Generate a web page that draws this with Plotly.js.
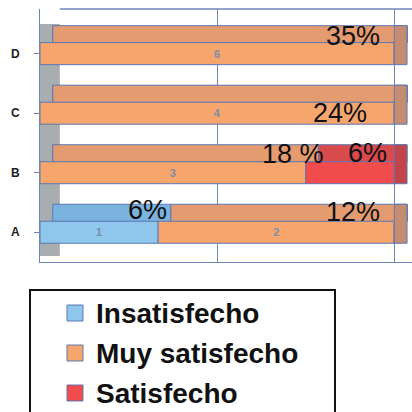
<!DOCTYPE html>
<html>
<head>
<meta charset="utf-8">
<script src="https://cdn.plot.ly/plotly-3.0.1.min.js"></script>
<style>
  html, body { margin: 0; padding: 0; background: #fff; }
  #chart { width: 412px; height: 412px; }
</style>
</head>
<body>
<div id="chart"></div>
<script>
// Survey answers per group (counts)
const categories = ['A', 'B', 'C', 'D'];
const insatisfecho = [1, 0, 0, 0];
const muySatisfecho = [2, 3, 4, 6];
const satisfecho = [0, 1, 0, 0];

// Share of all answers, as printed beside each segment
const shareInsatisfecho = ['6%', '', '', ''];
const shareMuySatisfecho = ['12%', '18 %', '24%', '35%'];
const shareSatisfecho = ['', '6%', '', ''];

const seriesNames = ['Insatisfecho', 'Muy satisfecho', 'Satisfecho'];
const seriesCounts = [insatisfecho, muySatisfecho, satisfecho];
const seriesShares = [shareInsatisfecho, shareMuySatisfecho, shareSatisfecho];

// Face colours: front, top, right-hand side
const frontColors = ['#8fc6ec', '#f6a66d', '#f24b4b'];
const topColors = ['#7bb3df', '#e59b70', '#d94a4c'];
const sideColors = ['#6c9cc8', '#c68c72', '#c2444a'];
const edgeColor = '#5d78b3';

// Pixel nudges for the share labels [series][category]
const labelDx = [[11, 0, 0, 0], [-12, 20, -25, -12], [0, -5, 0, 0]];
const labelDy = [[22, 0, 0, 0], [20, 19, 0, 18], [0, 20, 0, 0]];

const rowTotals = categories.map((_, i) =>
  seriesCounts.reduce((s, arr) => s + arr[i], 0));

const yIdx = categories.map((_, i) => i);
const skew = 3.6; // sideways shift of the slab's top and end faces, in x-axis units

const traces = [];
const annotations = [];
const running = categories.map(() => 0);
const lastSeries = categories.map(() => 0);

seriesCounts.forEach((counts, k) => {
  const pct = counts.map((v, i) => v / rowTotals[i] * 100);
  const base = running.slice();
  // top face (drawn first so the front sits over it)
  traces.push({
    type: 'bar', orientation: 'h',
    y: yIdx, x: pct, base: base.map(b => b + skew),
    offset: 0.18, width: 0.29,
    marker: { color: topColors[k], line: { color: edgeColor, width: 1 } },
    showlegend: false, hoverinfo: 'skip'
  });
  // front face
  traces.push({
    type: 'bar', orientation: 'h',
    y: yIdx, x: pct, base: base,
    offset: -0.185, width: 0.37,
    name: seriesNames[k], showlegend: false,
    marker: { color: frontColors[k], line: { color: edgeColor, width: 1 } },
    text: counts.map(v => (v > 0 && k < 2) ? String(v) : ''),
    textposition: 'inside', insidetextanchor: 'middle',
    constraintext: 'none',
    textfont: { family: 'Liberation Sans', size: 11, color: '#7d8ca8', weight: 'bold' },
    hoverinfo: 'name+text'
  });
  pct.forEach((p, i) => {
    if (counts[i] > 0) lastSeries[i] = k;
    if (counts[i] > 0 && seriesShares[k][i]) {
      annotations.push({
        x: base[i] + p, y: i, xref: 'x', yref: 'y',
        text: seriesShares[k][i], showarrow: false,
        xanchor: 'right', yanchor: 'middle',
        xshift: labelDx[k][i], yshift: labelDy[k][i],
        font: { family: 'Liberation Sans', size: 27, color: '#111' }
      });
    }
    running[i] += p;
  });
});

// right-hand end face of each slab
traces.push({
  type: 'bar', orientation: 'h',
  y: yIdx, x: categories.map(() => skew), base: running.slice(),
  offset: -0.185, width: 0.655,
  marker: { color: lastSeries.map(k => sideColors[k]), line: { color: edgeColor, width: 1 } },
  showlegend: false, hoverinfo: 'skip'
});

const axisBlue = '#6d86b8';

// Plot area in pixels, used to place the key box below the bars
const W = 412, H = 412, mL = 40, mR = 0, mT = 9, mB = 150;
const px2x = px => (px - mL) / (W - mL - mR);
const px2y = py => (H - mB - py) / (H - mT - mB);

const shapes = [
  // side wall
  { type: 'rect', xref: 'x', yref: 'y', x0: 0, x1: 5.6, y0: -0.4, y1: 3.5,
    fillcolor: '#a8adaf', line: { width: 0 }, layer: 'below' },
  // back wall top edge
  { type: 'line', xref: 'x', yref: 'paper', x0: 5.6, x1: 105, y0: 1, y1: 1,
    line: { color: axisBlue, width: 1.5 } },
  // key frame
  { type: 'rect', xref: 'paper', yref: 'paper',
    x0: px2x(30), x1: px2x(335), y0: px2y(425), y1: px2y(290),
    fillcolor: '#ffffff', line: { color: '#111', width: 2 } }
];

seriesNames.forEach((name, k) => {
  const cy = 313 + k * 40;
  shapes.push({
    type: 'rect', xref: 'paper', yref: 'paper',
    x0: px2x(67), x1: px2x(83), y0: px2y(cy + 8), y1: px2y(cy - 8),
    fillcolor: frontColors[k], line: { color: edgeColor, width: 1 }
  });
  annotations.push({
    xref: 'paper', yref: 'paper', x: px2x(94), y: px2y(cy),
    xanchor: 'left', yanchor: 'middle', showarrow: false,
    text: name,
    font: { family: 'Liberation Sans', size: 28, color: '#111', weight: 'bold' }
  });
});

const layout = {
  width: W, height: H,
  margin: { l: mL, r: mR, t: mT, b: mB, autoexpand: false },
  paper_bgcolor: '#ffffff', plot_bgcolor: '#ffffff',
  barmode: 'overlay',
  showlegend: false,
  xaxis: {
    range: [0, 105], dtick: 50, tick0: 0,
    showticklabels: false, ticks: '',
    showgrid: true, gridcolor: axisBlue, gridwidth: 1,
    zeroline: false, showline: true, linecolor: axisBlue, linewidth: 1,
    fixedrange: true
  },
  yaxis: {
    range: [-0.5, 3.75],
    tickmode: 'array', tickvals: yIdx, ticktext: categories,
    tickson: 'boundaries', ticks: 'outside', ticklen: 5, tickcolor: axisBlue,
    ticklabelstandoff: 12,
    tickfont: { family: 'Liberation Sans', size: 12, color: '#222', weight: 'bold' },
    showgrid: false, zeroline: false,
    showline: true, linecolor: axisBlue, linewidth: 1,
    fixedrange: true
  },
  shapes: shapes,
  annotations: annotations
};

Plotly.newPlot('chart', traces, layout, { displayModeBar: false, staticPlot: true });
</script>
</body>
</html>
